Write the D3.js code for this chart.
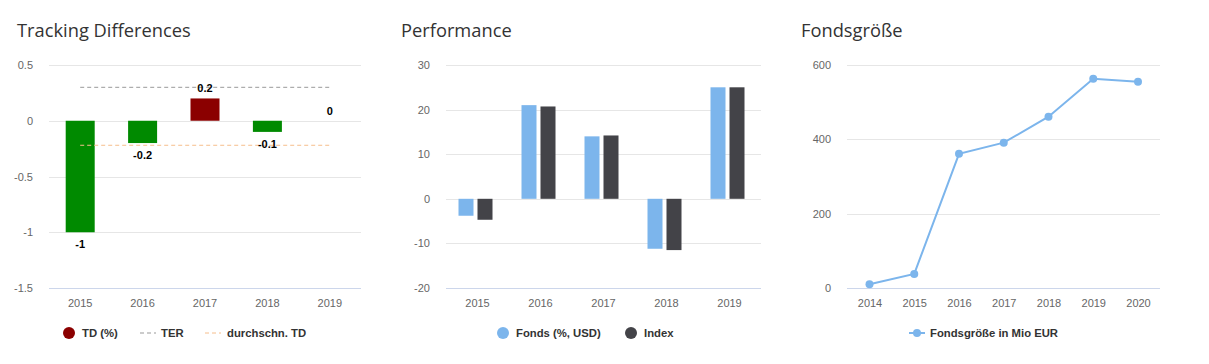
<!DOCTYPE html>
<html>
<head>
<meta charset="utf-8">
<script src="https://cdn.jsdelivr.net/npm/d3@7"></script>
<style>
  body { margin: 0; background: #fff; }
  .title { font-family: "Open Sans", "Noto Sans", sans-serif; font-size: 18.3px; fill: #333; }
  .tick text { font-family: "Liberation Sans", Arial, sans-serif; font-size: 11px; fill: #666; }
  .legend text { font-family: "Liberation Sans", Arial, sans-serif; font-size: 11.3px; font-weight: bold; fill: #333; }
  .dlabel { font-family: "Liberation Sans", Arial, sans-serif; font-size: 11px; font-weight: bold; fill: #000; }
</style>
</head>
<body>
<svg id="chart" width="1209" height="364"></svg>
<script>
// Tracking Differences
var tdYears = ["2015", "2016", "2017", "2018", "2019"];
var tdValues = [-1, -0.2, 0.2, -0.1, 0];
var terValue = 0.3;
var avgTd = -0.22;
var tdTicks = [0.5, 0, -0.5, -1, -1.5];

// Performance
var perfYears = ["2015", "2016", "2017", "2018", "2019"];
var fondsValues = [-3.8, 21, 14, -11.2, 25];
var indexValues = [-4.7, 20.7, 14.2, -11.5, 25];
var perfTicks = [30, 20, 10, 0, -10, -20];

// Fondsgröße
var sizeYears = ["2014", "2015", "2016", "2017", "2018", "2019", "2020"];
var sizeValues = [10, 38, 361, 391, 461, 563, 555];
var sizeTicks = [0, 200, 400, 600];

var svg = d3.select("#chart");
var gridColor = "#e6e6e6", axisColor = "#ccd6eb";

function drawGrid(g, y, ticks, x0, x1, fmt) {
  var ax = g.append("g").call(d3.axisLeft(y).tickValues(ticks).tickSize(0).tickPadding(0).tickFormat(fmt));
  ax.select(".domain").remove();
  ax.selectAll("text").attr("x", x0 - 16).attr("dy", "0.32em");
  ticks.forEach(function(t) {
    g.append("line")
      .attr("x1", x0).attr("x2", x1)
      .attr("y1", Math.round(y(t)) + 0.5).attr("y2", Math.round(y(t)) + 0.5)
      .attr("stroke", t === d3.min(ticks) ? axisColor : gridColor);
  });
}

function drawXAxis(g, x, yPos) {
  var ax = g.append("g").attr("transform", "translate(0," + yPos + ")")
    .call(d3.axisBottom(x).tickSize(0).tickPadding(11));
  ax.select(".domain").remove();
}

var fmt = function(d) { return String(d); };

// ---------- chart 1 ----------
var g1 = svg.append("g");
g1.append("text").attr("class", "title").attr("x", 17).attr("y", 37).text("Tracking Differences");
var x1 = d3.scaleBand().domain(tdYears).range([49, 361]);
var y1 = d3.scaleLinear().domain([-1.5, 0.5]).range([288, 65]);
drawGrid(g1, y1, tdTicks, 49, 361, fmt);
drawXAxis(g1, x1, 288);

g1.selectAll("rect.td").data(tdValues).enter().append("rect")
  .attr("x", function(d, i) { return x1(tdYears[i]) + x1.bandwidth() / 2 - 14.5; })
  .attr("width", 29)
  .attr("y", function(d) { return y1(Math.max(0, d)); })
  .attr("height", function(d) { return Math.abs(y1(d) - y1(0)); })
  .attr("fill", function(d) { return d > 0 ? "#8b0000" : "#008a00"; });

var cx = function(i) { return x1(tdYears[i]) + x1.bandwidth() / 2; };
g1.append("line")
  .attr("x1", cx(0)).attr("x2", cx(4))
  .attr("y1", y1(terValue)).attr("y2", y1(terValue))
  .attr("stroke", "#999").attr("stroke-dasharray", "4,3");
g1.append("line")
  .attr("x1", cx(0)).attr("x2", cx(4))
  .attr("y1", y1(avgTd)).attr("y2", y1(avgTd))
  .attr("stroke", "#f6be8c").attr("stroke-dasharray", "4,3");

g1.selectAll("text.dlabel").data(tdValues).enter().append("text")
  .attr("class", "dlabel")
  .attr("text-anchor", "middle")
  .attr("x", function(d, i) { return cx(i); })
  .attr("y", function(d) { return d < 0 ? y1(d) + 16 : y1(d) - 6; })
  .text(function(d) { return String(d); });

var l1 = g1.append("g").attr("class", "legend");
l1.append("circle").attr("cx", 69).attr("cy", 333).attr("r", 6).attr("fill", "#8b0000");
l1.append("text").attr("x", 82).attr("y", 337).text("TD (%)");
l1.append("line").attr("x1", 140).attr("x2", 156).attr("y1", 333).attr("y2", 333)
  .attr("stroke", "#999").attr("stroke-dasharray", "4,3");
l1.append("text").attr("x", 161).attr("y", 337).text("TER");
l1.append("line").attr("x1", 205).attr("x2", 221).attr("y1", 333).attr("y2", 333)
  .attr("stroke", "#f6be8c").attr("stroke-dasharray", "4,3");
l1.append("text").attr("x", 227).attr("y", 337).text("durchschn. TD");

// ---------- chart 2 ----------
var g2 = svg.append("g");
g2.append("text").attr("class", "title").attr("x", 401).attr("y", 37).text("Performance");
var x2 = d3.scaleBand().domain(perfYears).range([446, 761]);
var y2 = d3.scaleLinear().domain([-20, 30]).range([288, 65]);
drawGrid(g2, y2, perfTicks, 446, 761, fmt);
drawXAxis(g2, x2, 288);

var series2 = [{ vals: fondsValues, color: "#7cb5ec", off: -19 }, { vals: indexValues, color: "#434348", off: 0 }];
series2.forEach(function(s) {
  g2.selectAll(null).data(s.vals).enter().append("rect")
    .attr("x", function(d, i) { return x2(perfYears[i]) + x2.bandwidth() / 2 + s.off; })
    .attr("width", 15)
    .attr("y", function(d) { return y2(Math.max(0, d)); })
    .attr("height", function(d) { return Math.abs(y2(d) - y2(0)); })
    .attr("fill", s.color);
});

var l2 = g2.append("g").attr("class", "legend");
l2.append("circle").attr("cx", 503).attr("cy", 333).attr("r", 6).attr("fill", "#7cb5ec");
l2.append("text").attr("x", 516).attr("y", 337).text("Fonds (%, USD)");
l2.append("circle").attr("cx", 631).attr("cy", 333).attr("r", 6).attr("fill", "#434348");
l2.append("text").attr("x", 644).attr("y", 337).text("Index");

// ---------- chart 3 ----------
var g3 = svg.append("g");
g3.append("text").attr("class", "title").attr("x", 801).attr("y", 37).text("Fondsgröße");
var x3 = d3.scalePoint().domain(sizeYears).range([869.5, 1138]);
var y3 = d3.scaleLinear().domain([0, 600]).range([288, 65]);
drawGrid(g3, y3, sizeTicks, 847, 1160, fmt);
drawXAxis(g3, x3, 288);

var line3 = d3.line().x(function(d, i) { return x3(sizeYears[i]); }).y(function(d) { return y3(d); });
g3.append("path").datum(sizeValues).attr("d", line3)
  .attr("fill", "none").attr("stroke", "#7cb5ec").attr("stroke-width", 2);
g3.selectAll("circle.pt").data(sizeValues).enter().append("circle")
  .attr("cx", function(d, i) { return x3(sizeYears[i]); })
  .attr("cy", function(d) { return y3(d); })
  .attr("r", 4).attr("fill", "#7cb5ec");

var l3 = g3.append("g").attr("class", "legend");
l3.append("line").attr("x1", 909).attr("x2", 925).attr("y1", 333).attr("y2", 333)
  .attr("stroke", "#7cb5ec").attr("stroke-width", 2);
l3.append("circle").attr("cx", 917).attr("cy", 333).attr("r", 4).attr("fill", "#7cb5ec");
l3.append("text").attr("x", 930).attr("y", 337).text("Fondsgröße in Mio EUR");
</script>
</body>
</html>
